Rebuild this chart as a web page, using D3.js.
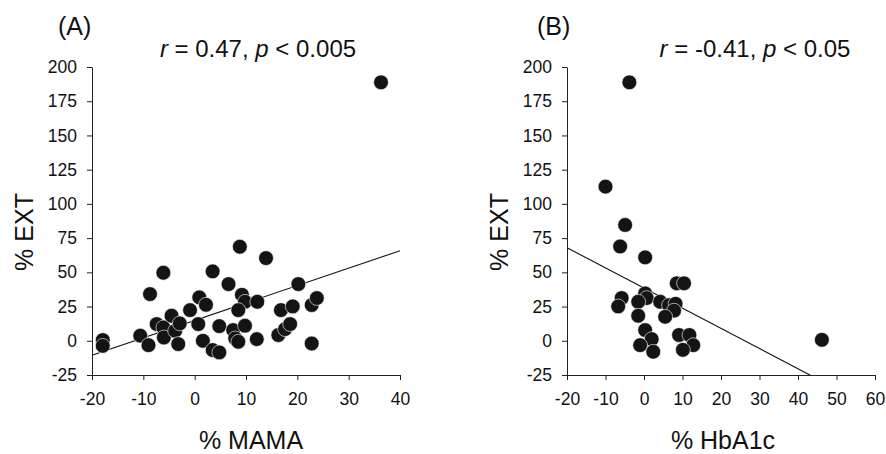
<!DOCTYPE html>
<html>
<head>
<meta charset="utf-8">
<script src="https://cdn.jsdelivr.net/npm/d3@7"></script>
<style>
  body { margin: 0; background: #fff; }
  svg { display: block; font-family: "Liberation Sans", Arial, sans-serif; }
  .axis path, .axis line { stroke: #222; stroke-width: 1; }
  .axis text { font-size: 17.5px; fill: #111; font-family: "Liberation Sans", Arial, sans-serif; }
</style>
</head>
<body>
<svg id="chart" width="886" height="454"></svg>
<script>
// panel A: % MAMA vs % EXT
var mamaX = [-17.9, -17.9, -10.6, -9.0, -8.7, -6.1, -7.4, -6.1, -6.0, -4.5, -3.8, -2.9, -3.2,
  -0.9, 0.9, 2.2, 0.7, 1.6, 3.5, 3.5, 4.8, 4.8, 6.6, 8.8, 9.2, 9.8, 8.5, 7.5, 7.9, 8.5, 9.8,
  12.1, 12.2, 13.9, 20.2, 16.8, 19.1, 16.3, 17.6, 18.6, 22.8, 23.8, 22.8, 36.3];
var mamaY = [0.5, -3.7, 3.7, -3.2, 34.1, 49.7, 12.2, 9.7, 2.4, 18.3, 7.3, 12.7, -2.4,
  22.4, 31.7, 26.3, 12.2, 0, 50.7, -6.8, -8.5, 10.7, 41.4, 68.7, 33.6, 28.5, 22.4, 7.8, 1.7, -0.7, 11,
  1.2, 28.5, 60.4, 41.4, 22.4, 25.1, 4.2, 8.5, 12.2, 26.1, 31.2, -2.0, 188.8];

// panel B: % HbA1c vs % EXT
var hbX = [-3.8, -10.0, -4.9, -6.2, 0.3, 8.5, 10.4, -5.8, -6.7, 0.3, 0.7, -1.5, -1.5, 4.2,
  6.5, 8.2, 7.8, 5.5, 0.3, 2.0, -1.0, 2.4, 9.1, 11.8, 12.8, 10.1, 46.2];
var hbY = [188.8, 112.6, 84.6, 68.9, 60.9, 42, 42, 31.2, 25.1, 34.6, 31.2, 28.5, 18.3, 28.5,
  26, 27, 22, 17.5, 7.8, 1.2, -3.2, -8.0, 4.2, 4.2, -3.2, -6.6, 0.7];

var yTicks = [-25, 0, 25, 50, 75, 100, 125, 150, 175, 200];
var mamaTicks = [-20, -10, 0, 10, 20, 30, 40];
var hbTicks = [-20, -10, 0, 10, 20, 30, 40, 50, 60];

// fitted lines: intercept, slope, x range
var mamaFit = {a: 14.9, b: 1.272, x0: -20, x1: 40};
var hbFit = {a: 38.5, b: -1.474, x0: -20, x1: 43.2};

var svg = d3.select("#chart");
var plain = function(d) {return String(d);}; // keep ascii hyphen for negatives

function panel(opt) {
  var x = d3.scaleLinear().domain(opt.xDomain).range(opt.xRange);
  var y = d3.scaleLinear().domain([-25, 200]).range([375, 67]);
  var g = svg.append("g");

  g.append("g")
    .attr("class", "axis")
    .attr("transform", "translate(0,375)")
    .call(d3.axisBottom(x).tickValues(opt.xTicks).tickFormat(plain)
      .tickSize(5).tickSizeOuter(0).tickPadding(13));

  g.append("g")
    .attr("class", "axis")
    .attr("transform", "translate(" + opt.xRange[0] + ",0)")
    .call(d3.axisLeft(y).tickValues(yTicks).tickFormat(plain)
      .tickSize(5).tickSizeOuter(0).tickPadding(10));

  var line = d3.line().x(function(d) {return x(d);}).y(function(d) {return y(opt.fit.a + opt.fit.b * d);});
  g.append("path")
    .datum([opt.fit.x0, opt.fit.x1])
    .attr("d", line)
    .attr("fill", "none")
    .attr("stroke", "#111")
    .attr("stroke-width", 1.1);

  g.selectAll("circle")
    .data(opt.xs)
    .enter().append("circle")
      .attr("cx", function(d) {return x(d);})
      .attr("cy", function(d, i) {return y(opt.ys[i]);})
      .attr("r", 7.4)
      .attr("fill", "#141414")
      .attr("stroke", "#fff")
      .attr("stroke-width", 0.6);

  g.append("text")
    .attr("x", opt.tagX).attr("y", 35)
    .attr("font-size", 25).attr("fill", "#111")
    .text(opt.tag);

  var t = g.append("text")
    .attr("x", opt.titleX).attr("y", 57)
    .attr("text-anchor", "middle")
    .attr("font-size", 24).attr("fill", "#111");
  t.append("tspan").attr("font-style", "italic").text("r");
  t.append("tspan").text(" = " + opt.r + ", ");
  t.append("tspan").attr("font-style", "italic").text("p");
  t.append("tspan").text(" < " + opt.p);

  g.append("text")
    .attr("x", opt.xLabelX).attr("y", 449)
    .attr("text-anchor", "middle")
    .attr("font-size", 25).attr("fill", "#111")
    .text(opt.xLabel);

  g.append("text")
    .attr("transform", "translate(" + opt.yLabelX + ",232) rotate(-90)")
    .attr("text-anchor", "middle")
    .attr("font-size", 25).attr("fill", "#111")
    .text("% EXT");
}

panel({
  xs: mamaX, ys: mamaY, xDomain: [-20, 40], xRange: [92, 400], xTicks: mamaTicks,
  fit: mamaFit, tag: "(A)", tagX: 58, titleX: 258, r: "0.47", p: "0.005",
  xLabel: "% MAMA", xLabelX: 251, yLabelX: 33
});

panel({
  xs: hbX, ys: hbY, xDomain: [-20, 60], xRange: [567, 875], xTicks: hbTicks,
  fit: hbFit, tag: "(B)", tagX: 537, titleX: 755, r: "-0.41", p: "0.05",
  xLabel: "% HbA1c", xLabelX: 723, yLabelX: 508
});
</script>
</body>
</html>
